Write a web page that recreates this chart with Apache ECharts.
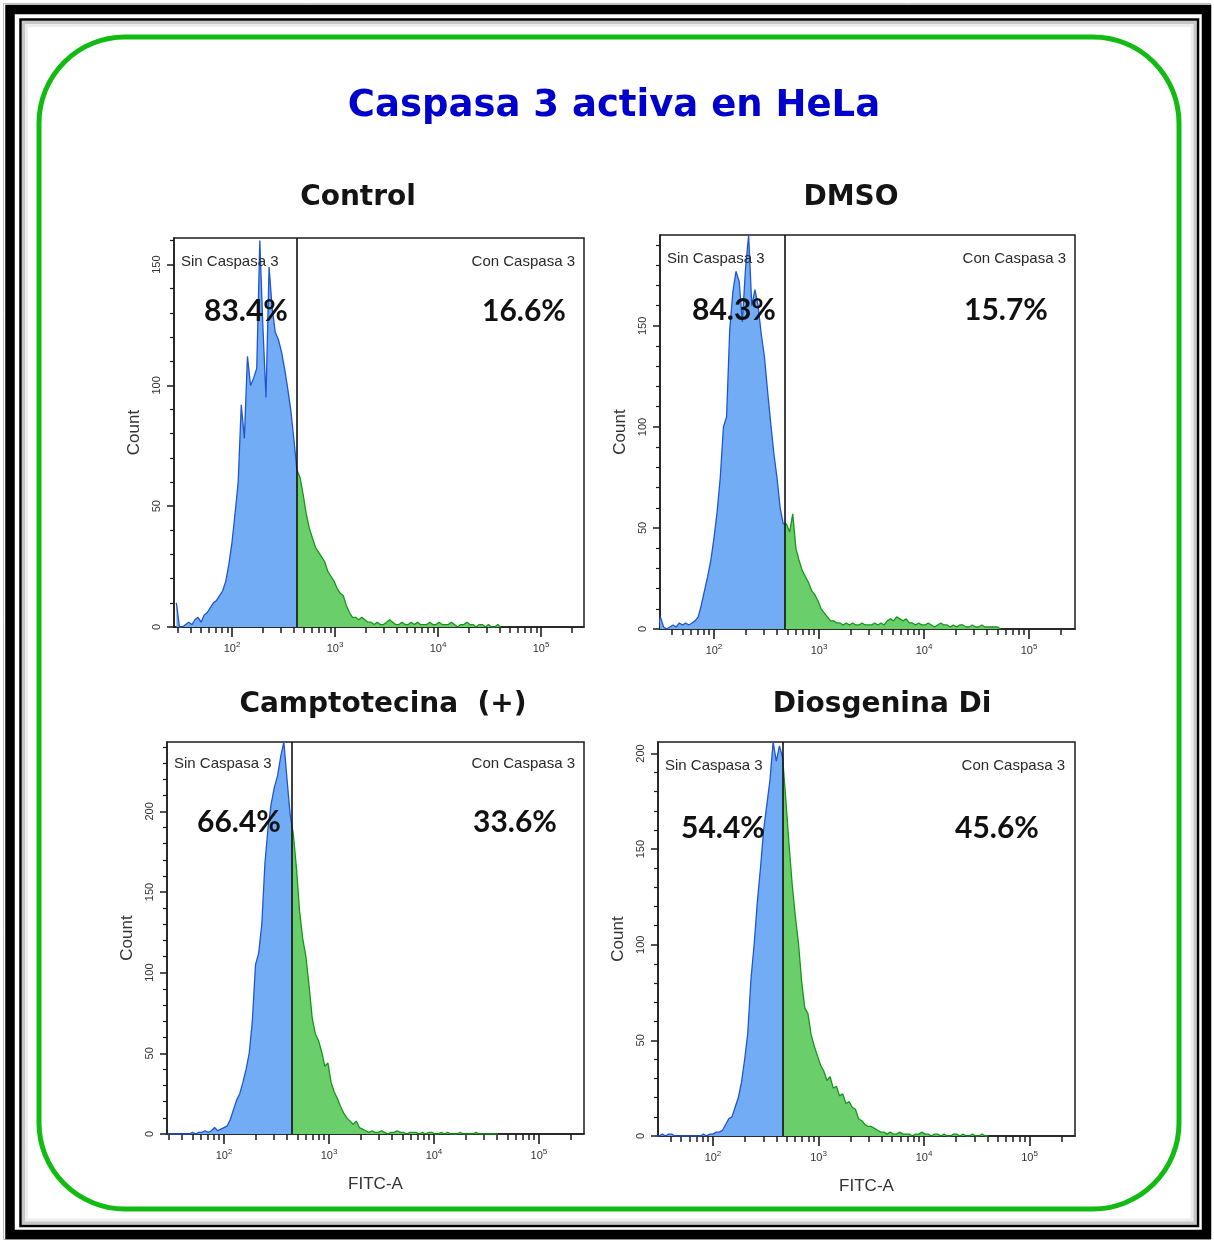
<!DOCTYPE html>
<html><head><meta charset="utf-8">
<script src="https://cdn.jsdelivr.net/npm/echarts@6/dist/echarts.min.js"></script>
<style>html,body{margin:0;padding:0;background:#fff}#c{width:1214px;height:1243px}</style>
</head><body><div id="c"></div>
<script>
// ---------- data ----------
const mainTitle = 'Caspasa 3 activa en HeLa';
const panelNames = ['Control', 'DMSO', 'Camptotecina  (+)', 'Diosgenina Di'];
const sinPct = ['83.4%', '84.3%', '66.4%', '54.4%'];
const conPct = ['16.6%', '15.7%', '33.6%', '45.6%'];
const gateLabels = ['Sin Caspasa 3', 'Con Caspasa 3'];
// histogram bins: centre of bin i = BIN_START + i*BIN_STEP  (log10 of FITC-A)
const BIN_START = 1.46, BIN_STEP = 0.03;
const controlCounts = [
10,0,0,1,2,1,3,4,2,5,
6,8,10,11,13,15,19,26,35,47,
60,92,78,112,100,103,107,160,124,95,
149,132,122,119,114,107,99,90,78,65,
62,55,47,41,37,33,31,29,27,23,
21,19,16,14,13,9,6,4,4,3,
4,3,2,2,1,2,1,1,2,3,
2,1,1,2,1,1,2,1,2,1,
1,1,2,1,1,2,1,1,1,2,
1,0,1,1,2,1,1,0,1,1,
0,1,0,0,1,0];
const dmsoCounts = [
0,6,1,0,1,2,1,3,2,3,
2,3,4,6,12,19,26,34,45,58,
75,100,105,148,167,177,172,152,178,195,
160,168,160,146,135,118,102,87,75,60,
52,52,48,57,40,34,29,26,23,19,
17,14,10,8,6,4,4,3,3,2,
3,2,3,2,2,3,2,2,2,3,
2,3,2,4,5,4,6,5,4,5,
3,3,2,3,2,2,3,2,1,2,
3,2,2,1,2,1,2,2,1,1,
2,1,1,2,1,1,1,1,1,0];
const camptoCounts = [
0,0,0,0,0,0,0,0,1,0,
1,1,2,1,2,4,2,3,4,5,
9,15,21,25,32,40,50,70,105,112,
130,168,190,205,215,222,234,243,220,198,
186,165,138,121,110,92,72,62,58,51,
42,44,32,26,22,17,13,10,8,6,
8,4,3,2,1,2,1,1,2,1,
0,1,1,2,1,1,0,1,1,1,
0,1,0,1,1,0,0,1,0,1,
0,0,0,1,0,0,0,0,1,0,
0,0,0,0,0,0];
const dioCounts = [
0,0,1,0,1,1,0,0,0,0,
0,0,0,0,0,1,0,1,1,2,
2,3,6,9,10,15,20,28,40,54,
82,100,122,140,160,173,186,206,196,204,
198,176,153,132,115,101,81,67,64,53,
47,42,37,34,29,31,25,26,21,22,
17,18,15,14,9,8,6,5,5,4,
3,2,2,1,2,1,1,2,1,1,
1,0,1,1,2,1,1,0,1,1,
0,1,0,0,1,1,0,1,0,0,
1,0,0,1,0,0];
const allCounts = [controlCounts, dmsoCounts, camptoCounts, dioCounts];
const gates = [2.628, 2.667, 2.645, 2.664];           // gate position, log10(FITC-A)
const countMax = [161, 195, 243, 206];
const xMinLog = [1.437, 1.486, 1.457, 1.479];
const xMaxLog = [5.417, 5.438, 5.429, 5.431];
const xDecades = [2, 3, 4, 5];
const yLabelTicks = [[0,50,100,150],[0,50,100,150],[0,50,100,150,200],[0,50,100,150,200]];

// ---------- layout ----------
const L = [
  {left:174, top:238, width:410, height:389, tx:358, ty:198, sinX:181, labY:262, conX:575, pctY:311, sinPX:246, conPX:524},
  {left:660, top:235, width:415, height:394, tx:851, ty:198, sinX:667, labY:259, conX:1066, pctY:310, sinPX:734, conPX:1006},
  {left:167, top:742, width:417, height:392, tx:383, ty:705, sinX:174, labY:764, conX:575, pctY:822, sinPX:239, conPX:515},
  {left:658, top:742, width:417, height:394, tx:882, ty:705, sinX:665, labY:766, conX:1065, pctY:828, sinPX:723, conPX:997}
];
const BLUE_LINE = '#1f55d2', BLUE_FILL = '#72acf5', GREEN_LINE = '#15961a', GREEN_FILL = '#6acf6a';
const AX = '#1c1c1c', TXT = '#333';

const grids = [], xAxes = [], yAxes = [], series = [], visualMaps = [], graphics = [];

L.forEach((g, p) => {
  grids.push({left:g.left, top:g.top, width:g.width, height:g.height, show:true,
    borderColor:AX, borderWidth:1.5, backgroundColor:'rgba(0,0,0,0)'});
  const minorX = [];
  for (let n = 1; n <= 5; n++) for (let k = 2; k <= 9; k++) {
    const v = n + Math.log10(k);
    if (v > xMinLog[p] && v < xMaxLog[p]) minorX.push(v);
  }
  const minorY = [];
  for (let v = 10; v < countMax[p]; v += 10) if (v % 50) minorY.push(v);
  const bottomRow = p >= 2;
  xAxes.push({type:'value', gridIndex:p, position:'bottom', min:xMinLog[p], max:xMaxLog[p],
    axisLine:{show:true, onZero:false, lineStyle:{color:AX, width:1.5}},
    axisTick:{show:true, customValues:xDecades, length:10, lineStyle:{color:AX, width:1.6}},
    axisLabel:{show:true, customValues:xDecades, margin:14,
      formatter: v => '{b|10}{s|' + Math.round(v) + '}',
      rich:{b:{fontSize:11, color:TXT, fontFamily:'Liberation Sans', lineHeight:15},
            s:{fontSize:8, color:TXT, fontFamily:'Liberation Sans', verticalAlign:'top', lineHeight:9}}},
    splitLine:{show:false},
    name: bottomRow ? 'FITC-A' : '', nameLocation:'middle', nameGap:42,
    nameTextStyle:{fontSize:17, color:TXT, fontFamily:'Liberation Sans'}});
  xAxes.push({type:'value', gridIndex:p, position:'bottom', min:xMinLog[p], max:xMaxLog[p],
    axisLine:{show:false}, axisTick:{show:true, customValues:minorX, length:6, lineStyle:{color:AX, width:1.5}},
    axisLabel:{show:false}, splitLine:{show:false}});
  yAxes.push({type:'value', gridIndex:p, position:'left', min:0, max:countMax[p],
    axisLine:{show:true, onZero:false, lineStyle:{color:AX, width:1.5}},
    axisTick:{show:true, customValues:yLabelTicks[p], length:7, lineStyle:{color:AX, width:1.5}},
    axisLabel:{show:true, customValues:yLabelTicks[p], rotate:90, margin:12, fontSize:11, color:TXT, fontFamily:'Liberation Sans'},
    splitLine:{show:false},
    name:'Count', nameLocation:'middle', nameGap:31,
    nameTextStyle:{fontSize:17, color:TXT, fontFamily:'Liberation Sans'}});
  yAxes.push({type:'value', gridIndex:p, position:'left', min:0, max:countMax[p],
    axisLine:{show:false}, axisTick:{show:true, customValues:minorY, length:4, lineStyle:{color:AX, width:1.2}},
    axisLabel:{show:false}, splitLine:{show:false}});

  const data = allCounts[p].map((c, i) => [+(BIN_START + i * BIN_STEP).toFixed(3), c]);
  series.push({type:'line', xAxisIndex:2*p, yAxisIndex:2*p, data, symbol:'none', showSymbol:false,
    lineStyle:{width:0}, areaStyle:{opacity:1}, z:2, silent:true});
  series.push({type:'line', xAxisIndex:2*p, yAxisIndex:2*p, data, symbol:'none', showSymbol:false,
    lineStyle:{width:1.3}, z:3, silent:true,
    markLine:{silent:true, symbol:'none', animation:false, label:{show:false},
      lineStyle:{color:'#111', width:1.6, type:'solid'}, data:[{xAxis:gates[p]}]}});
  visualMaps.push({type:'piecewise', show:false, dimension:0, seriesIndex:2*p,
    pieces:[{gte:0, lt:gates[p], color:BLUE_FILL}, {gte:gates[p], lte:9, color:GREEN_FILL}]});
  visualMaps.push({type:'piecewise', show:false, dimension:0, seriesIndex:2*p+1,
    pieces:[{gte:0, lt:gates[p], color:BLUE_LINE}, {gte:gates[p], lte:9, color:GREEN_LINE}]});

  // texts
  graphics.push({type:'text', x:g.tx, y:g.ty, z:50, style:{text:panelNames[p], fill:'#141414',
    font:"bold 28px 'DejaVu Sans'", textAlign:'center', textVerticalAlign:'middle', align:'center', verticalAlign:'middle',
    shadowColor:'rgba(0,0,0,0.35)', shadowBlur:3, shadowOffsetX:1.5, shadowOffsetY:1.5}});
  graphics.push({type:'text', x:g.sinX, y:g.labY, z:50, style:{text:gateLabels[0], fill:'#2a2a2a',
    font:"15px 'Liberation Sans'", textAlign:'left', textVerticalAlign:'middle', align:'left', verticalAlign:'middle'}});
  graphics.push({type:'text', x:g.conX, y:g.labY, z:50, style:{text:gateLabels[1], fill:'#2a2a2a',
    font:"15px 'Liberation Sans'", textAlign:'right', textVerticalAlign:'middle', align:'right', verticalAlign:'middle'}});
  graphics.push({type:'text', x:g.sinPX, y:g.pctY, z:50, style:{text:sinPct[p], fill:'#111',
    font:"bold 30px Lato", textAlign:'center', textVerticalAlign:'middle', align:'center', verticalAlign:'middle'}});
  graphics.push({type:'text', x:g.conPX, y:g.pctY, z:50, style:{text:conPct[p], fill:'#111',
    font:"bold 30px Lato", textAlign:'center', textVerticalAlign:'middle', align:'center', verticalAlign:'middle'}});
});

// frame + title
graphics.unshift(
  {type:'rect', z:0, shape:{x:3.5, y:3.5, width:1207, height:1236}, style:{fill:'none', stroke:'#bdbdbd', lineWidth:1}},
  {type:'rect', z:0, shape:{x:10, y:9.5, width:1196.5, height:1225}, style:{fill:'none', stroke:'#000', lineWidth:9.5}},
  {type:'rect', z:0, shape:{x:20.5, y:19.5, width:1177.5, height:1206.5}, style:{fill:'none', stroke:'#000', lineWidth:2.5}},
  {type:'rect', z:0, shape:{x:23.5, y:22.5, width:1171.5, height:1200.5}, style:{fill:'none', stroke:'rgba(0,0,0,0.22)', lineWidth:3}},
  {type:'rect', z:0, shape:{x:26.5, y:25.5, width:1165.5, height:1194.5}, style:{fill:'none', stroke:'rgba(0,0,0,0.07)', lineWidth:3}},
  {type:'rect', z:0, shape:{x:39, y:37, width:1140, height:1172, r:86}, style:{fill:'none', stroke:'#12bb12', lineWidth:5}},
  {type:'text', x:614, y:106, z:50, style:{text:mainTitle, fill:'#0000cc', font:"bold 37px 'DejaVu Sans'",
    textAlign:'center', textVerticalAlign:'middle', align:'center', verticalAlign:'middle',
    shadowColor:'rgba(0,0,0,0.35)', shadowBlur:3, shadowOffsetX:2, shadowOffsetY:2}}
);

const chart = echarts.init(document.getElementById('c'), null, {renderer:'canvas'});
chart.setOption({
  animation:false,
  backgroundColor:'#ffffff',
  grid:grids, xAxis:xAxes, yAxis:yAxes, visualMap:visualMaps, series, graphic:graphics
});
</script></body></html>
